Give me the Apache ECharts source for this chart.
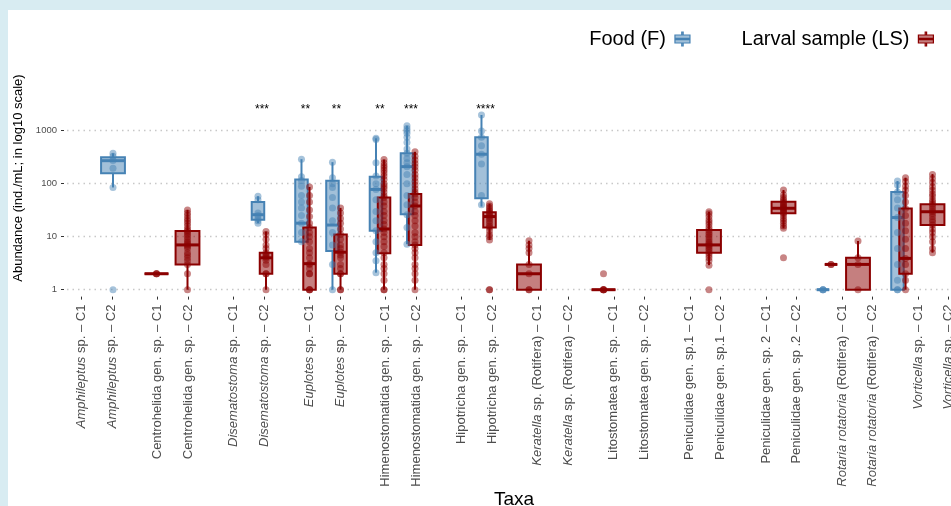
<!DOCTYPE html>
<html><head><meta charset="utf-8">
<script src="https://cdn.jsdelivr.net/npm/echarts@6/dist/echarts.min.js"></script>
<style>html,body{margin:0;padding:0;background:#fff}#c{width:951px;height:506px}</style>
</head><body><div id="c"></div>
<script>
// ---------------- data ----------------
const tickLabels = [
  '{i|Amphileptus} sp. – C1', '{i|Amphileptus} sp. – C2',
  'Centrohelida gen. sp. – C1', 'Centrohelida gen. sp. – C2',
  '{i|Disematostoma} sp. – C1', '{i|Disematostoma} sp. – C2',
  '{i|Euplotes} sp. – C1', '{i|Euplotes} sp. – C2',
  'Himenostomatida gen. sp. – C1', 'Himenostomatida gen. sp. – C2',
  'Hipotricha gen. sp. – C1', 'Hipotricha gen. sp. – C2',
  '{i|Keratella} sp. (Rotifera) – C1', '{i|Keratella} sp. (Rotifera) – C2',
  'Litostomatea gen. sp. – C1', 'Litostomatea gen. sp. – C2',
  'Peniculidae gen. sp.1 – C1', 'Peniculidae gen. sp.1 – C2',
  'Peniculidae gen. sp. 2 – C1', 'Peniculidae gen. sp .2 – C2',
  '{i|Rotaria rotatoria} (Rotifera) – C1', '{i|Rotaria rotatoria} (Rotifera) – C2',
  '{i|Vorticella} sp. – C1', '{i|Vorticella} sp. – C2'
];
const yTicks = [1, 10, 100, 1000];
const groupNames = ['Food (F)', 'Larval sample (LS)'];

// [category index, min, q1, median, q3, max]
const foodBoxes = [
  [1, 85, 157, 272, 315, 375],
  [5, 18, 21, 26, 45, 58],
  [6, 7.5, 8, 18, 120, 290],
  [7, 1, 5.4, 16.6, 114, 255],
  [8, 2.1, 13, 78, 136, 720],
  [9, 7.2, 26.5, 210, 375, 1240],
  [11, 37, 53, 360, 750, 1980],
  [20, 1, 1, 1, 1, 1],
  [22, 1, 1, 23, 70, 112]
];
const larvalBoxes = [
  [2, 2, 2, 2, 2, 2],
  [3, 1, 3, 7, 12.8, 32],
  [5, 1, 2, 4, 5, 12.5],
  [6, 1, 1, 3.1, 15, 87],
  [7, 1, 2, 5.1, 11, 35],
  [8, 1, 4.9, 14, 55, 285],
  [9, 1, 7, 38, 64, 400],
  [11, 8.7, 15, 24, 29, 42],
  [12, 1, 1, 2, 3, 8.4],
  [14, 1, 1, 1, 1, 1],
  [17, 2.9, 5, 7, 13.4, 29.6],
  [19, 14.4, 27.6, 34.4, 45.7, 76],
  [20, 3, 3, 3, 3, 3],
  [21, 1, 1, 3, 4, 8.3],
  [22, 1, 2, 3.9, 34, 130],
  [23, 5, 16.6, 29.6, 41, 152]
];
// [category index, observed values...]
const foodPoints = [
  [1, 375, 330, 275, 195, 85, 1],
  [5, 58, 50, 28, 25, 22, 20, 18],
  [6, 290, 135, 115, 90, 60, 45, 35, 25, 18, 12, 8],
  [7, 255, 130, 100, 85, 55, 35, 20, 12, 7, 3, 1],
  [8, 720, 680, 250, 140, 100, 78, 50, 30, 20, 13, 8, 5, 3.5, 2.1],
  [9, 1240, 1100, 1000, 900, 750, 600, 450, 375, 300, 250, 210, 150, 100, 60, 40, 26, 15, 7.2],
  [11, 1980, 990, 750, 520, 360, 235, 60, 40],
  [20, 1, 1, 1],
  [22, 112, 95, 70, 50, 35, 23, 12, 6, 3, 1.5, 1, 1]
];
const larvalPoints = [
  [2, 2, 2, 2],
  [3, 32, 28, 25, 22, 20, 18, 16, 14, 13, 12, 11, 10, 9, 8, 7.5, 7, 6.5, 6, 5, 4.5, 4, 3.5, 3, 2, 1],
  [5, 12.5, 11, 9, 7, 6, 5, 4.6, 4.3, 4, 3.6, 3, 2, 2, 1],
  [6, 87, 60, 45, 32, 24, 18, 15, 12, 10, 8, 6, 5, 4, 3.1, 3, 2.5, 2, 2, 1, 1, 1],
  [7, 35, 28, 22, 18, 14, 11, 9, 7, 6, 5.1, 4.5, 4, 3, 2.5, 2, 2, 1, 1],
  [8, 285, 250, 220, 200, 180, 160, 140, 120, 100, 90, 80, 70, 60, 55, 45, 38, 30, 25, 20, 17, 14, 12, 10, 8, 6.5, 5, 4, 3, 2.5, 2, 1.5, 1, 1],
  [9, 400, 330, 280, 240, 210, 180, 150, 130, 110, 95, 80, 70, 64, 55, 45, 38, 30, 25, 20, 16, 12, 10, 8, 7, 6, 5, 4, 3, 2.5, 2, 1.5, 1],
  [11, 42, 38, 35, 32, 30, 28, 26, 24, 22, 20, 18, 16, 15, 13, 11, 10, 8.7, 1, 1],
  [12, 8.4, 7, 6, 5, 3, 2, 1, 1],
  [14, 1, 1, 1, 1, 2],
  [17, 29.6, 27, 24, 21, 19, 17, 15, 13.4, 12, 11, 10, 9, 8, 7.5, 7, 6.5, 6, 5.5, 5, 4.5, 4, 3.5, 2.9, 1],
  [19, 76, 62, 55, 50, 46, 43, 40, 38, 36, 34.4, 33, 31, 29, 27.6, 25, 22, 20, 18, 16, 14.4, 4],
  [20, 3, 3],
  [21, 8.3, 4, 3, 1],
  [22, 130, 110, 90, 75, 60, 45, 34, 25, 18, 13, 9, 6, 3.9, 3, 2, 1.5, 1],
  [23, 150, 125, 105, 88, 75, 65, 58, 50, 45, 41, 37, 33, 30, 27, 24, 21, 19, 16.6, 14, 12, 10, 8, 6, 5]
];
// significance marks: [category index, text]
const starCats = [5, 6, 7, 8, 9, 11];
const starText = ['***', '**', '**', '**', '***', '****'];
const starLevel = 2450;

// ---------------- layout ----------------
const FONT = 'Liberation Sans, Arial, Helvetica, sans-serif';
const BLUE = '#4682B4', BLUE_F = 'rgba(70,130,180,0.5)', BLUE_P = 'rgba(70,130,180,0.6)';
const RED = '#8B0000', RED_F = 'rgba(139,0,0,0.5)', RED_P = 'rgba(139,0,0,0.6)';
const LABEL_OFF = 0.2, DATA_OFF = 0.208, DODGE = 0.054, W_SINGLE = 0.32, W_DODGE = 0.168;
const GRID = {left: 67, top: 59.5, width: 894, height: 237.1, outerBoundsMode: 'none', containLabel: false};

const labelPos = tickLabels.map((_, k) => Math.floor(k / 2) + (k % 2 ? LABEL_OFF : -LABEL_OFF));
const dataX = k => Math.floor(k / 2) + (k % 2 ? DATA_OFF : -DATA_OFF);
const fCats = new Set(foodBoxes.map(b => b[0]));
const lCats = new Set(larvalBoxes.map(b => b[0]));
const both = k => fCats.has(k) && lCats.has(k);
const boxX = (k, g) => dataX(k) + (both(k) ? (g === 0 ? -DODGE : DODGE) : 0);
const boxW = k => both(k) ? W_DODGE : W_SINGLE;

function boxData(arr, g) { return arr.map(b => [boxX(b[0], g), b[1], b[2], b[3], b[4], b[5], boxW(b[0])]); }
function pointData(arr, g) {
  const out = [];
  arr.forEach(r => { for (let j = 1; j < r.length; j++) out.push([boxX(r[0], g), r[j]]); });
  return out;
}
function labelFor(v) {
  let best = 0, d = 1e9;
  labelPos.forEach((p, k) => { if (Math.abs(p - v) < d) { d = Math.abs(p - v); best = k; } });
  return tickLabels[best];
}

function boxRender(stroke, fill) {
  return function (params, api) {
    const x = api.value(0), w = api.value(6);
    const vals = [1, 2, 3, 4, 5].map(i => api.value(i));
    const y = vals.map(v => api.coord([x, v])[1]);
    const cx = api.coord([x, vals[2]])[0];
    const xl = api.coord([x - w / 2, vals[2]])[0];
    const xr = api.coord([x + w / 2, vals[2]])[0];
    return {
      type: 'group',
      children: [
        {type: 'line', shape: {x1: cx, y1: y[0], x2: cx, y2: y[1]}, style: {stroke: stroke, lineWidth: 2}},
        {type: 'line', shape: {x1: cx, y1: y[3], x2: cx, y2: y[4]}, style: {stroke: stroke, lineWidth: 2}},
        {type: 'rect', shape: {x: xl, y: y[3], width: xr - xl, height: y[1] - y[3]}, style: {fill: fill, stroke: stroke, lineWidth: 2}},
        {type: 'line', shape: {x1: xl, y1: y[2], x2: xr, y2: y[2]}, style: {stroke: stroke, lineWidth: 3}}
      ]
    };
  };
}

const ICON = 'path://M0,3H15V11H0Z M6.8,0H8.2V3H6.8Z M6.8,11H8.2V14H6.8Z M0,6.4H15V7.6H0Z';

const chart = echarts.init(document.getElementById('c'));
chart.setOption({
  backgroundColor: '#fff',
  animation: false,
  graphic: [
    {type: 'rect', left: 0, top: 0, shape: {width: 951, height: 10}, style: {fill: '#D8ECF2'}, silent: true},
    {type: 'rect', left: 0, top: 0, shape: {width: 8, height: 506}, style: {fill: '#D8ECF2'}, silent: true}
  ],
  legend: {
    right: 12, top: 24, align: 'right', itemWidth: 15, itemHeight: 14, itemGap: 51,
    textStyle: {fontSize: 20, color: '#000', fontFamily: FONT, padding: [0, 4, 0, 0]},
    data: [
      {name: groupNames[0], icon: ICON, itemStyle: {color: BLUE_F, borderColor: BLUE, borderWidth: 1.2}},
      {name: groupNames[1], icon: ICON, itemStyle: {color: RED_F, borderColor: RED, borderWidth: 1.2}}
    ]
  },
  grid: GRID,
  xAxis: [
    {
      type: 'value', min: -0.3905, max: -0.3905 + GRID.width / 76.05,
      name: 'Taxa', nameLocation: 'middle', nameGap: 192,
      nameTextStyle: {fontSize: 19, color: '#000', fontFamily: FONT},
      axisLine: {show: false, onZero: false}, splitLine: {show: false},
      axisTick: {show: true, length: 3, customValues: labelPos, lineStyle: {color: '#333', width: 1}},
      axisLabel: {
        customValues: labelPos, rotate: 90, margin: 8, fontSize: 13, color: '#4D4D4D', fontFamily: FONT,
        formatter: v => labelFor(v),
        rich: {i: {fontStyle: 'italic', fontSize: 13, color: '#4D4D4D', fontFamily: FONT}}
      }
    },
    {type: 'value', show: false, min: -0.4094, max: -0.4094 + GRID.width / 74.5, axisLine: {onZero: false}}
  ],
  yAxis: {
    type: 'log', logBase: 10, min: 0.741, max: 22080, offset: 3,
    name: 'Abundance (ind./mL; in log10 scale)', nameLocation: 'middle', nameGap: 38,
    nameTextStyle: {fontSize: 13, color: '#000', fontFamily: FONT},
    axisLine: {show: false, onZero: false},
    axisTick: {show: true, length: 3, customValues: yTicks, lineStyle: {color: '#333'}},
    axisLabel: {customValues: yTicks, fontSize: 9.5, color: '#4D4D4D', fontFamily: FONT, margin: 7,
      formatter: v => String(Math.round(v))},
    splitLine: {show: true, showMinLine: true, showMaxLine: true,
      lineStyle: {color: '#C8C8C8', width: 1.4, type: [1.5, 4]}}
  },
  series: [
    {name: groupNames[0], type: 'custom', xAxisIndex: 1, renderItem: boxRender(BLUE, BLUE_F),
      encode: {x: 0, y: [1, 2, 3, 4, 5]}, data: boxData(foodBoxes, 0), z: 2},
    {name: groupNames[1], type: 'custom', xAxisIndex: 1, renderItem: boxRender(RED, RED_F),
      encode: {x: 0, y: [1, 2, 3, 4, 5]}, data: boxData(larvalBoxes, 1), z: 2},
    {name: groupNames[0], type: 'scatter', xAxisIndex: 1, symbolSize: 7,
      itemStyle: {color: BLUE_P}, data: pointData(foodPoints, 0), z: 3},
    {name: groupNames[1], type: 'scatter', xAxisIndex: 1, symbolSize: 7,
      itemStyle: {color: RED_P}, data: pointData(larvalPoints, 1), z: 3},
    {type: 'custom', xAxisIndex: 1, z: 4,
      data: starCats.map(k => [dataX(k), starLevel]),
      renderItem: (params, api) => {
        const p = api.coord([api.value(0), api.value(1)]);
        return {type: 'text', x: p[0], y: p[1],
          style: {text: starText[params.dataIndex], fill: '#000', font: '12px ' + FONT, align: 'center', verticalAlign: 'middle'}};
      }}
  ]
});
</script>
</body></html>
